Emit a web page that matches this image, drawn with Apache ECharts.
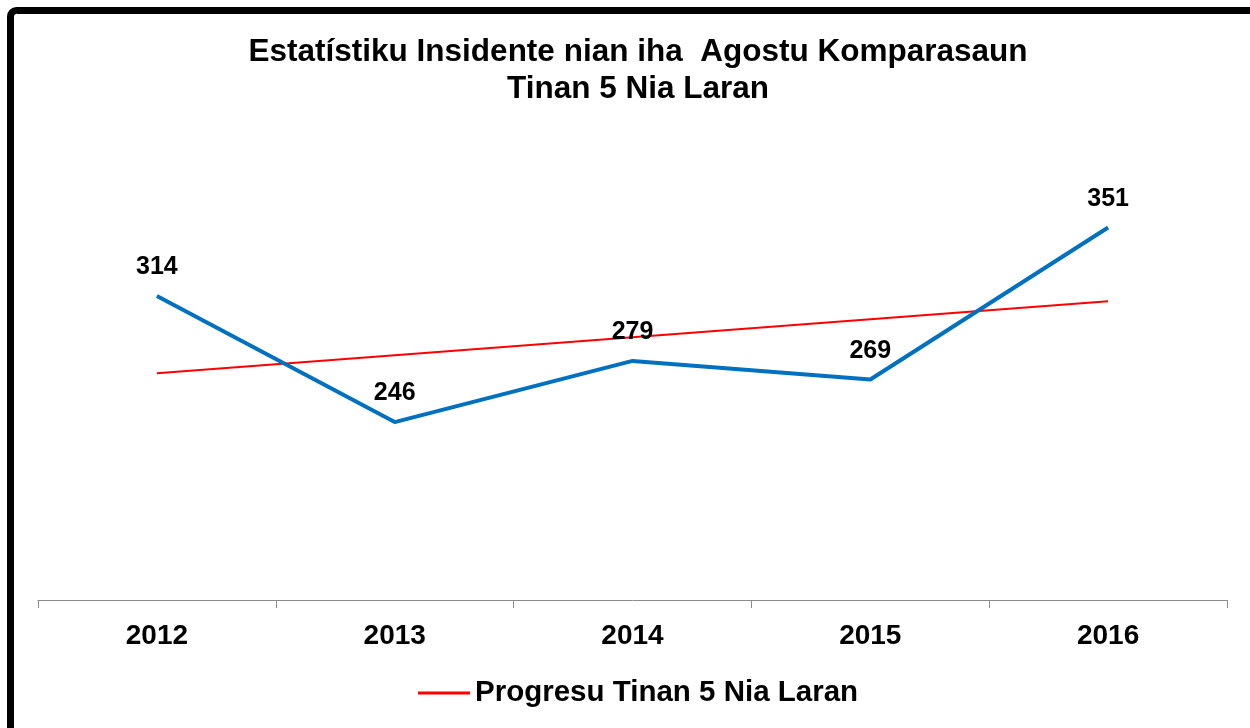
<!DOCTYPE html>
<html>
<head>
<meta charset="utf-8">
<script src="https://cdn.jsdelivr.net/npm/echarts@6/dist/echarts.min.js"></script>
<style>
  html, body { margin: 0; padding: 0; background: #fff; }
  #chart { width: 1250px; height: 728px; }
</style>
</head>
<body>
<div id="chart"></div>
<script>
// Years and monthly incident counts (August)
const years = ['2012', '2013', '2014', '2015', '2016'];
const incidents = [314, 246, 279, 269, 351];
// 5-year progress (trend) line
const progress = [272.4, 282.1, 291.8, 301.5, 311.2];

const titleText = 'Estatístiku Insidente nian iha  Agostu Komparasaun\nTinan 5 Nia Laran';
const legendName = 'Progresu Tinan 5 Nia Laran';

let chart = echarts.init(document.getElementById('chart'));
let option;

option = {
    backgroundColor: '#fff',
    animation: false,
    textStyle: {
        fontFamily: 'Liberation Sans, Arial, sans-serif'
    },
    title: {
        text: titleText,
        left: 633,
        textAlign: 'center',
        top: 29,
        textStyle: {
            fontSize: 31.5,
            fontWeight: 'bold',
            color: '#000',
            lineHeight: 37
        }
    },
    legend: {
        data: [legendName],
        bottom: 15,
        left: 413,
        itemWidth: 52,
        itemHeight: 3,
        icon: 'rect',
        textStyle: {
            fontSize: 29.5,
            fontWeight: 'bold',
            color: '#000'
        }
    },
    graphic: [
        {
            type: 'rect',
            shape: { x: 10.5, y: 10.5, width: 1400, height: 900, r: 6 },
            style: { fill: 'none', stroke: '#000', lineWidth: 7 },
            z: 100
        }
    ],
    grid: {
        left: 38,
        right: 23,
        top: 44,
        bottom: 128
    },
    xAxis: {
        type: 'category',
        data: years,
        boundaryGap: true,
        axisLine: { lineStyle: { color: '#8c8c8c', width: 1 } },
        axisTick: { show: true, length: 8, lineStyle: { color: '#8c8c8c' } },
        axisLabel: {
            margin: 22,
            fontSize: 28,
            fontWeight: 'bold',
            color: '#000'
        }
    },
    yAxis: {
        type: 'value',
        min: 150,
        max: 450,
        show: false,
        splitLine: { show: false }
    },
    series: [
        {
            name: 'Insidente',
            type: 'line',
            data: incidents,
            symbol: 'circle',
            symbolSize: 0,
            lineStyle: { color: '#0070C0', width: 4 },
            itemStyle: { color: '#0070C0' },
            label: {
                show: true,
                position: 'top',
                distance: 16,
                fontSize: 25,
                fontWeight: 'bold',
                color: '#000'
            },
            z: 3
        },
        {
            name: legendName,
            type: 'line',
            data: progress,
            symbol: 'none',
            lineStyle: { color: '#FF0000', width: 2 },
            itemStyle: { color: '#FF0000' },
            z: 2
        }
    ]
};

option && chart.setOption(option);
</script>
</body>
</html>
